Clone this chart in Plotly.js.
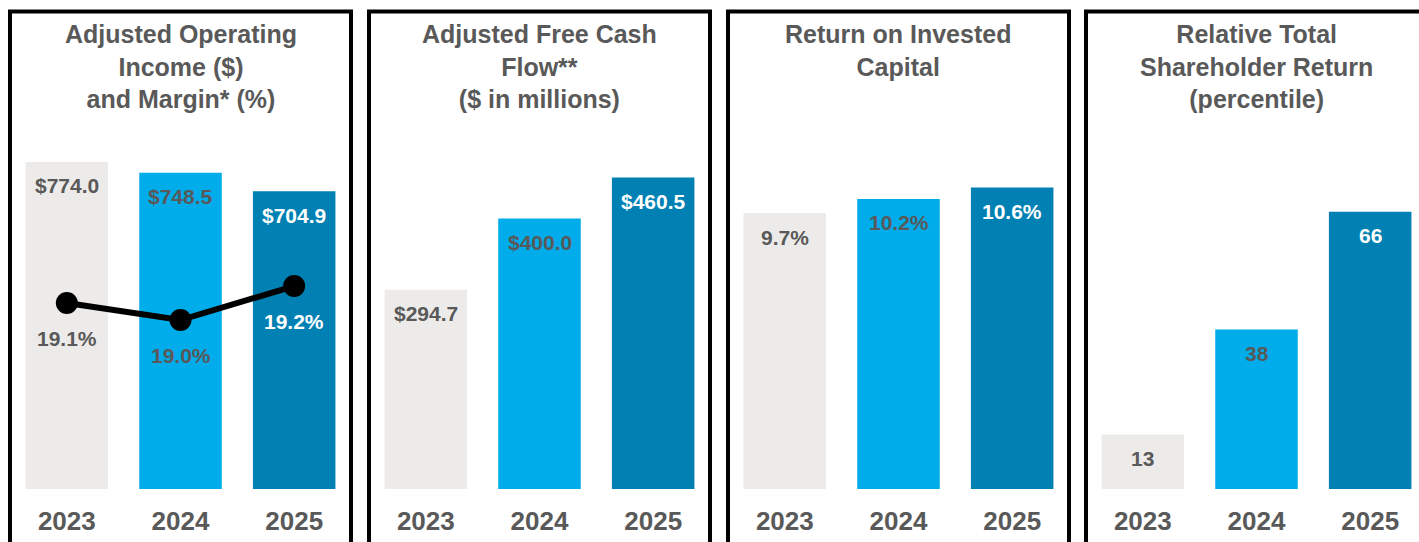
<!DOCTYPE html>
<html>
<head>
<meta charset="utf-8">
<script src="https://cdn.plot.ly/plotly-3.0.1.min.js"></script>
<style>html,body{margin:0;padding:0;background:#fff;}#chart{width:1419px;height:542px;}</style>
</head>
<body>
<div id="chart"></div>
<script>
// ---- data ----
const years = ['2023', '2024', '2025'];
const opIncome = [774.0, 748.5, 704.9];
const opMargin = [19.1, 19.0, 19.2];
const freeCashFlow = [294.7, 400.0, 460.5];
const roic = [9.7, 10.2, 10.6];
const tsr = [13, 38, 66];
const panelTitles = [
  'Adjusted Operating<br>Income ($)<br>and Margin* (%)',
  'Adjusted Free Cash<br>Flow**<br>($ in millions)',
  'Return on Invested<br>Capital',
  'Relative Total<br>Shareholder Return<br>(percentile)'
];

// ---- style ----
const W = 1419, H = 542;
const FONT = 'Liberation Sans, Arial, Helvetica, sans-serif';
const GREY_TXT = '#595959';
const barColors = ['#ECEBE9', '#00ACEA', '#0080B3'];
const labelColors = [GREY_TXT, GREY_TXT, '#FFFFFF'];
const px = v => v / W;
const py = v => 1 - v / H;

const panels = [[10, 351], [369, 710], [728, 1069], [1086, 1427]];
const yDom = [py(489), py(140)];

const fmtMoney = v => '$' + v.toFixed(1);
const fmtPct = v => v.toFixed(1) + '%';
const fmtInt = v => String(v);

const series = [
  {vals: opIncome, fmt: fmtMoney, range: [0, 826]},
  {vals: freeCashFlow, fmt: fmtMoney, range: [0, 516]},
  {vals: roic, fmt: fmtPct, range: [0, 12.27]},
  {vals: tsr, fmt: fmtInt, range: [0, 83.1]}
];

const traces = [];
const annotations = [];
const shapes = [];
const layout = {
  width: W, height: H,
  margin: {l: 0, r: 0, t: 0, b: 0},
  paper_bgcolor: '#fff', plot_bgcolor: 'rgba(0,0,0,0)',
  showlegend: false,
  bargap: 0.274,
  font: {family: FONT, color: GREY_TXT}
};

series.forEach((s, i) => {
  const n = i === 0 ? '' : String(i + 1);
  const xa = 'x' + n, ya = 'y' + n;
  traces.push({
    type: 'bar', x: years, y: s.vals, xaxis: xa, yaxis: ya,
    marker: {color: barColors, line: {width: 0}},
    hoverinfo: 'skip'
  });
  const p = panels[i];
  let xr = [-0.5, 2.5];
  let dom = [px(p[0]), px(p[1])];
  if (p[1] > W) {
    const catW = (p[1] - p[0]) / 3;
    xr = [-0.5, -0.5 + (W - p[0]) / catW];
    dom = [px(p[0]), 1];
  }
  layout['xaxis' + n] = {
    domain: dom, anchor: ya, type: 'category', range: xr,
    showgrid: false, zeroline: false, showline: false, ticks: '',
    tickfont: {family: FONT, size: 26, color: GREY_TXT, weight: 'bold'},
    ticklabelstandoff: 14, fixedrange: true
  };
  layout['yaxis' + n] = {
    domain: yDom, anchor: xa, range: s.range, visible: false, fixedrange: true
  };
  s.vals.forEach((v, j) => {
    annotations.push({
      xref: xa, yref: ya, x: j, y: v, yshift: -24,
      text: s.fmt(v), showarrow: false, yanchor: 'middle',
      font: {family: FONT, size: 21, color: labelColors[j], weight: 'bold'}
    });
  });
  annotations.push({
    xref: 'paper', yref: 'paper', x: px((p[0] + p[1]) / 2), y: py(18),
    xanchor: 'center', yanchor: 'top', align: 'center',
    text: panelTitles[i], showarrow: false,
    font: {family: FONT, size: 25, color: GREY_TXT, weight: 'bold'}
  });
  shapes.push({
    type: 'rect', xref: 'paper', yref: 'paper',
    x0: px(p[0]), x1: px(p[1]), y0: py(560), y1: py(11.5),
    line: {color: '#000', width: 4}, fillcolor: 'rgba(0,0,0,0)', layer: 'above'
  });
});

// margin line on secondary axis of panel 1
layout.yaxis5 = {domain: yDom, overlaying: 'y', anchor: 'x', range: [18.006, 20.059], visible: false, fixedrange: true};
traces.push({
  type: 'scatter', mode: 'lines+markers', x: years, y: opMargin, xaxis: 'x', yaxis: 'y5',
  line: {color: '#000', width: 6}, marker: {color: '#000', size: 22}, hoverinfo: 'skip'
});
opMargin.forEach((v, j) => {
  annotations.push({
    xref: 'x', yref: 'y5', x: j, y: v, yshift: -35,
    text: fmtPct(v), showarrow: false, yanchor: 'middle',
    font: {family: FONT, size: 21, color: labelColors[j], weight: 'bold'}
  });
});

layout.annotations = annotations;
layout.shapes = shapes;

Plotly.newPlot('chart', traces, layout, {staticPlot: true, displayModeBar: false});
</script>
</body>
</html>
